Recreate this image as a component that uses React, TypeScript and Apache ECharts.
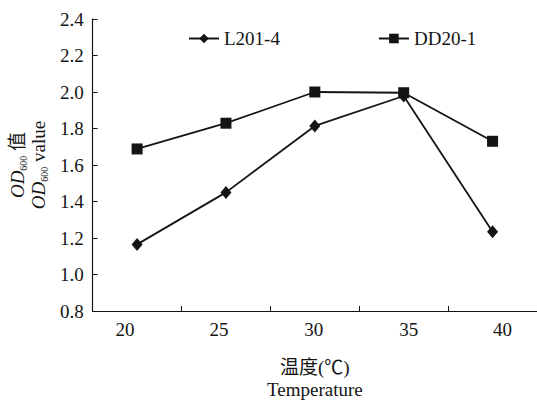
import React, { useEffect, useRef } from "react";
import * as echarts from "echarts";

const categories = ["20", "25", "30", "35", "40"];
const seriesL201 = [1.165, 1.45, 1.814, 1.978, 1.234];
const seriesDD20 = [1.688, 1.829, 2.0, 1.996, 1.73];
const seriesNames = ["L201-4", "DD20-1"];
const yTicks = { min: 0.8, max: 2.4, interval: 0.2 };

const FONT = "'Liberation Serif', 'Noto Sans CJK SC', serif";
const INK = "#141414";

// small per-label nudges (style only) to follow the reference's label placement
const labelShift = [-12, -7, -1, 5, 10];

export default function App() {
  const ref = useRef<HTMLDivElement>(null);
  useEffect(() => {
    if (!ref.current) return;
    const chart = echarts.init(ref.current, undefined, { renderer: "svg" });
    const rich: Record<string, any> = {};
    labelShift.forEach((s, i) => {
      rich["c" + i] = {
        fontFamily: FONT,
        fontSize: 19,
        color: INK,
        padding: s < 0 ? [0, -2 * s, 0, 0] : [0, 0, 0, 2 * s],
      };
    });
    chart.setOption({
      animation: false,
      backgroundColor: "#ffffff",
      textStyle: { fontFamily: FONT, color: INK },
      legend: {
        left: 183,
        top: 24,
        itemWidth: 30,
        itemHeight: 12,
        itemGap: 98,
        textStyle: { fontFamily: FONT, fontSize: 19, color: INK },
        data: seriesNames,
      },
      grid: { left: 91, right: 0, top: 19, bottom: 89, containLabel: false },
      xAxis: {
        type: "category",
        data: categories,
        boundaryGap: true,
        axisLine: { show: true, lineStyle: { color: INK, width: 1.2 } },
        axisTick: { show: true, inside: true, length: 5, lineStyle: { color: INK } },
        axisLabel: {
          fontFamily: FONT,
          fontSize: 19,
          color: INK,
          margin: 9,
          formatter: (v: string, i: number) => `{c${i}|${v}}`,
          rich,
        },
        name: "温度(℃)\nTemperature",
        nameLocation: "middle",
        nameGap: 45,
        nameTextStyle: { fontFamily: FONT, fontSize: 19, color: INK, lineHeight: 22 },
      },
      yAxis: {
        type: "value",
        min: yTicks.min,
        max: yTicks.max,
        interval: yTicks.interval,
        splitLine: { show: false },
        axisLine: { show: true, lineStyle: { color: INK, width: 1.2 } },
        axisTick: { show: true, inside: true, length: 5, lineStyle: { color: INK } },
        axisLabel: {
          fontFamily: FONT,
          fontSize: 19,
          color: INK,
          margin: 9,
          formatter: (v: number) => v.toFixed(1),
        },
        name: "{od|OD}{sub|600}{t| 值}\n{od|OD}{sub|600}{t| value}",
        nameLocation: "middle",
        nameRotate: 90,
        nameGap: 41,
        nameTextStyle: {
          fontFamily: FONT,
          color: INK,
          rich: {
            od: { fontFamily: FONT, fontStyle: "italic", fontSize: 19, lineHeight: 21, color: INK },
            sub: { fontFamily: FONT, fontSize: 10, verticalAlign: "bottom", color: INK },
            t: { fontFamily: FONT, fontSize: 19, lineHeight: 21, color: INK },
          },
        },
      },
      series: [
        {
          name: seriesNames[0],
          type: "line",
          data: seriesL201,
          symbol: "diamond",
          symbolSize: [11, 13],
          lineStyle: { color: INK, width: 1.8 },
          itemStyle: { color: INK },
        },
        {
          name: seriesNames[1],
          type: "line",
          data: seriesDD20,
          symbol: "rect",
          symbolSize: 11,
          lineStyle: { color: INK, width: 1.8 },
          itemStyle: { color: INK },
        },
      ],
    });
    return () => chart.dispose();
  }, []);
  return <div ref={ref} style={{ width: 537, height: 405, position: "absolute", left: 0, top: 0 }} />;
}
